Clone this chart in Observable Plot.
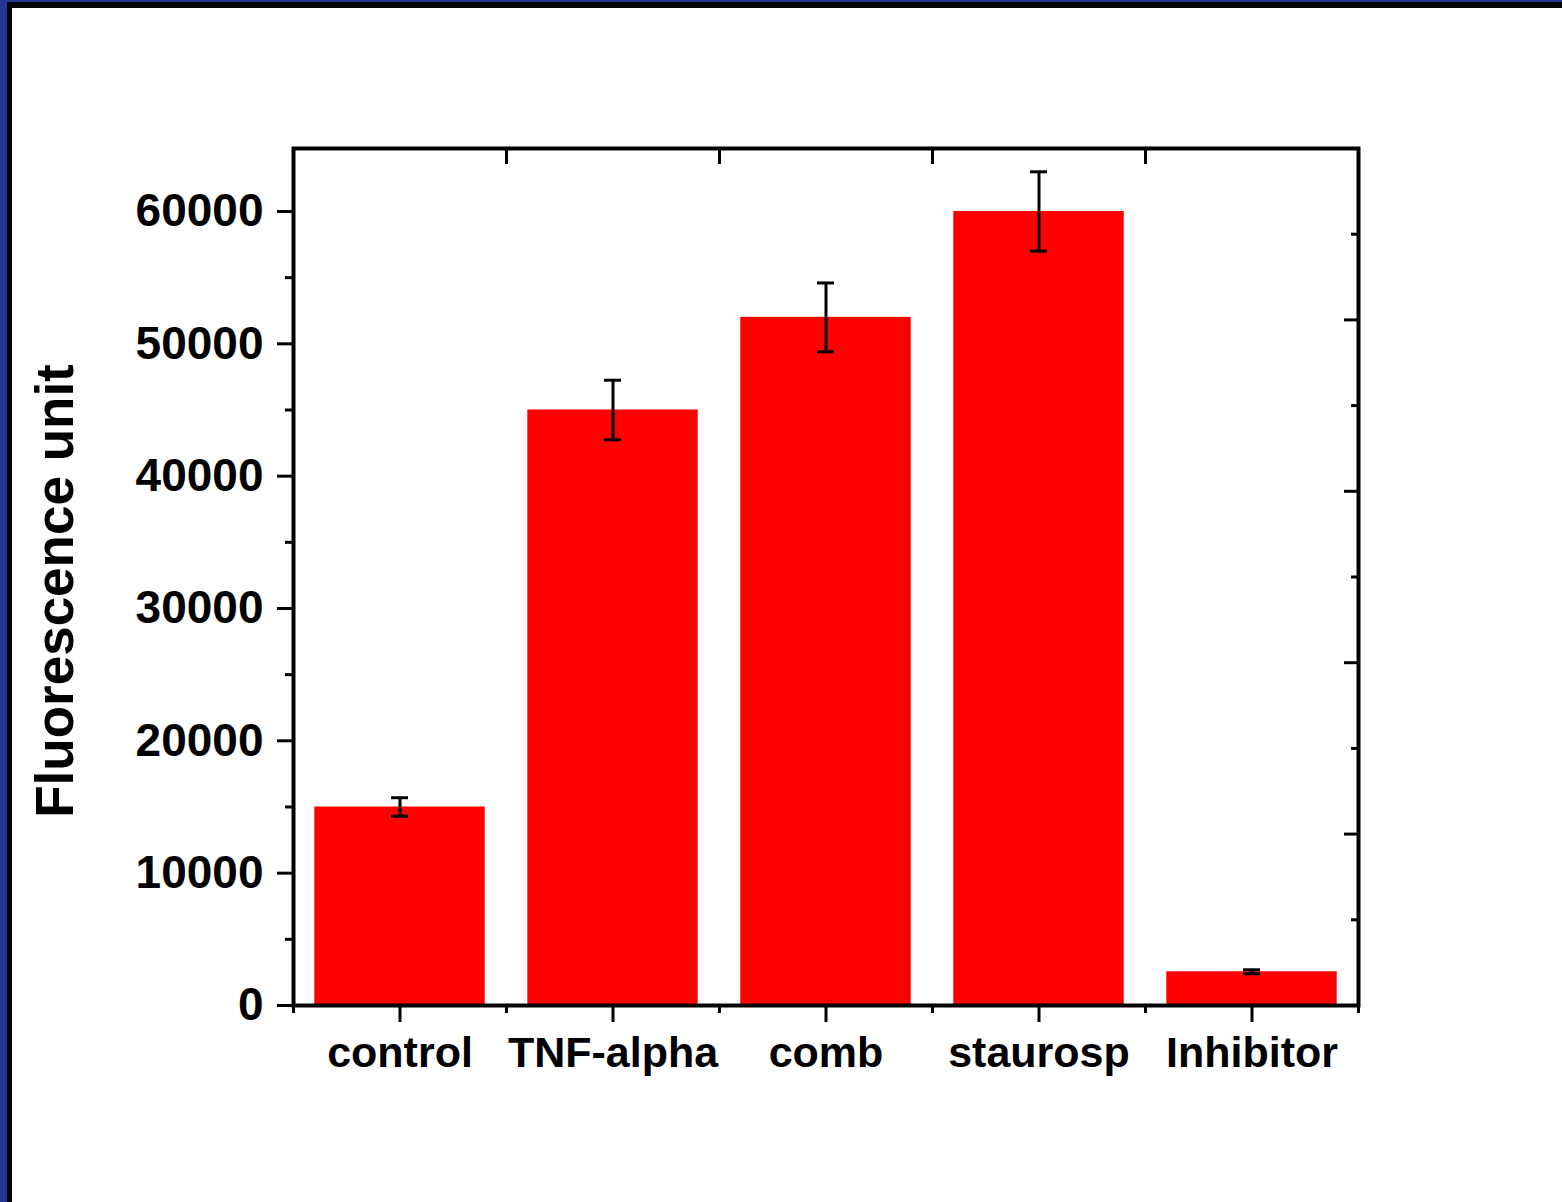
<!DOCTYPE html>
<html>
<head>
<meta charset="utf-8">
<script src="https://cdn.jsdelivr.net/npm/d3@7"></script>
<script src="https://cdn.jsdelivr.net/npm/@observablehq/plot@0.6"></script>
<style>
  html, body { margin: 0; padding: 0; background: #fff; }
  #outer { width: 1555px; height: 1200px; border-left: 7px solid #283593; border-top: 2px solid #283593; overflow: hidden; }
  #inner { width: 1550px; height: 1194px; border-left: 5px solid #000; border-top: 6px solid #000; background: #fff; }
  svg { display: block; }
</style>
</head>
<body>
<div id="outer"><div id="inner"><div id="chart"></div></div></div>
<script>
const categories = ["control", "TNF-alpha", "comb", "staurosp", "Inhibitor"];
const values = [15000, 45000, 52000, 60000, 2550];
const errLow = [14300, 42750, 49400, 57000, 2400];
const errHigh = [15700, 47250, 54600, 63000, 2700];

const yMajorTicks = [0, 10000, 20000, 30000, 40000, 50000, 60000];
const yMinorTicks = [5000, 15000, 25000, 35000, 45000, 55000];
const rightMajorTicks = [12952, 25904, 38856, 51808];
const rightMinorTicks = [6476, 19428, 32380, 45332, 58284];
const xTickPositions = [1, 2, 3, 4, 5];
const xBoundaryTicks = [0.5, 1.5, 2.5, 3.5, 4.5, 5.5];
const xTopTicks = [1.5, 2.5, 3.5, 4.5];
const yMax = 64760;

const data = categories.map((c, k) => ({i: k + 1, cat: c, value: values[k], lo: errLow[k], hi: errHigh[k]}));

const font = "'Liberation Sans', Arial, sans-serif";
const barHalf = 0.4;
const capHalf = 0.04;
const noLabel = () => "";

const chart = Plot.plot({
  width: 1550,
  height: 1194,
  marginLeft: 281,
  marginRight: 204,
  marginTop: 140,
  marginBottom: 197,
  style: {fontFamily: font, fontWeight: "bold", color: "#000", background: "#fff"},
  x: {type: "linear", domain: [0.5, 5.5]},
  y: {domain: [0, yMax]},
  marks: [
    Plot.rectY(data, {x1: d => d.i - barHalf, x2: d => d.i + barHalf, y1: 0, y2: "value", fill: "#ff0000"}),
    Plot.ruleX(data, {x: "i", y1: "lo", y2: "hi", stroke: "#000", strokeWidth: 3}),
    Plot.ruleY(data, {x1: d => d.i - capHalf, x2: d => d.i + capHalf, y: "lo", stroke: "#000", strokeWidth: 3}),
    Plot.ruleY(data, {x1: d => d.i - capHalf, x2: d => d.i + capHalf, y: "hi", stroke: "#000", strokeWidth: 3}),
    Plot.axisY({anchor: "left", ticks: yMajorTicks, tickSize: 16, tickPadding: 14, strokeWidth: 3,
      tickFormat: d => String(d), fontSize: 46, fontWeight: "bold", fontFamily: font,
      label: "Fluorescence unit", labelAnchor: "center", labelOffset: 258, labelArrow: "none"}),
    Plot.axisY({anchor: "left", ticks: yMinorTicks, tickSize: 8, strokeWidth: 3, tickFormat: noLabel, label: null}),
    Plot.axisY({anchor: "right", ticks: rightMajorTicks, tickSize: -15, strokeWidth: 3, tickFormat: noLabel, label: null}),
    Plot.axisY({anchor: "right", ticks: rightMinorTicks, tickSize: -8, strokeWidth: 3, tickFormat: noLabel, label: null}),
    Plot.axisX({anchor: "bottom", ticks: xTickPositions, tickSize: 17, tickPadding: 14, strokeWidth: 3,
      tickFormat: d => categories[d - 1], fontSize: 43, fontWeight: "bold", fontFamily: font, label: null}),
    Plot.axisX({anchor: "bottom", ticks: xBoundaryTicks, tickSize: 8, strokeWidth: 3, tickFormat: noLabel, label: null}),
    Plot.axisX({anchor: "top", ticks: xTopTicks, tickSize: -15, strokeWidth: 3, tickFormat: noLabel, label: null}),
    Plot.frame({stroke: "#000", strokeWidth: 4})
  ]
});
chart.querySelectorAll("g[aria-label='y-axis label'] text").forEach(t => {
  t.setAttribute("font-size", 53);
  t.style.fontSize = "53px";
  t.setAttribute("dx", -14);
});
document.getElementById("chart").appendChild(chart);
</script>
</body>
</html>
